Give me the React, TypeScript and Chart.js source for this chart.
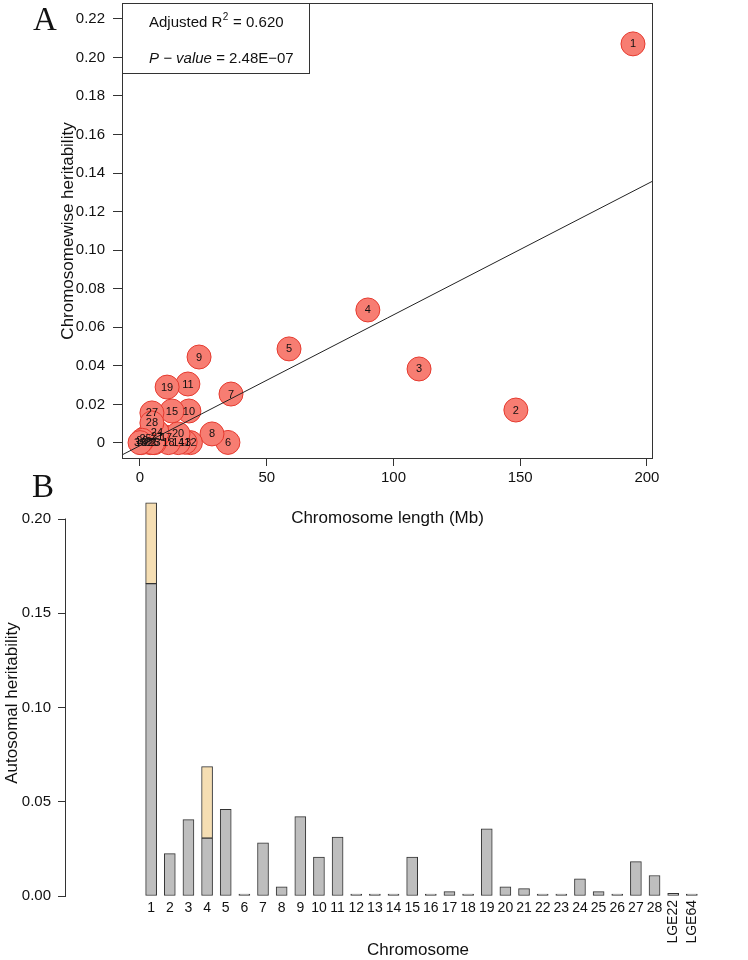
import React, { useEffect, useRef } from 'react';
import { Chart, registerables } from 'chart.js';

Chart.register(...registerables);

const FONT = '"Liberation Sans", Arial, Helvetica, sans-serif';
const SERIF = '"Liberation Serif", "Times New Roman", serif';

// ---------- Panel A data ----------
const pointLabels = ['1','2','3','4','5','6','7','8','9','10','11','12','13','14','15','16','17','18','19','20','21','22','23','24','25','26','27','28','29','30'];
const lengthMb = [194.5, 148.3, 110.1, 89.9, 58.8, 34.7, 35.9, 28.4, 23.3, 19.3, 18.9, 19.9, 17.8, 15.1, 12.6, 0.5, 10.3, 11.2, 10.7, 15.0, 6.8, 4.1, 5.7, 6.7, 2.2, 5.1, 4.7, 4.7, 0.9, 0.02];
const heritA = [0.207, 0.0171, 0.0384, 0.069, 0.0488, 0.0003, 0.0254, 0.0047, 0.0446, 0.0166, 0.0306, 0.0002, 0.0004, 0.0002, 0.0166, 0.0002, 0.003, 0.0002, 0.029, 0.0047, 0.0036, 0.0002, 0.0002, 0.0057, 0.0026, 0.0002, 0.0156, 0.0104, 0.0014, 0.0002];
const fitLineX = [-7.1, 202.4];
const fitLineY = [-0.0062, 0.1359];
const yTicksA = [0, 0.02, 0.04, 0.06, 0.08, 0.1, 0.12, 0.14, 0.16, 0.18, 0.2, 0.22];
const yTickLabelsA = ['0', '0.02', '0.04', '0.06', '0.08', '0.10', '0.12', '0.14', '0.16', '0.18', '0.20', '0.22'];
const xTicksA = [0, 50, 100, 150, 200];
const xTickLabelsA = ['0', '50', '100', '150', '200'];
const statR2 = '0.620';
const statP = '2.48E\u221207';

// ---------- Panel B data ----------
const chromLabels = ['1','2','3','4','5','6','7','8','9','10','11','12','13','14','15','16','17','18','19','20','21','22','23','24','25','26','27','28','LGE22','LGE64'];
const grayB = [0.1657, 0.0225, 0.0405, 0.0307, 0.046, 0.0003, 0.0282, 0.0049, 0.0421, 0.0207, 0.0312, 0.0002, 0.0005, 0.0002, 0.0207, 0.0002, 0.0023, 0.0002, 0.0356, 0.0049, 0.0039, 0.0002, 0.0002, 0.0091, 0.0023, 0.0002, 0.0182, 0.0109, 0.0014, 0.0004];
const tanB = [0.0429, 0, 0, 0.0379, 0, 0, 0, 0, 0, 0, 0, 0, 0, 0, 0, 0, 0, 0, 0, 0, 0, 0, 0, 0, 0, 0, 0, 0, 0, 0];
const yTicksB = [0, 0.05, 0.1, 0.15, 0.2];
const yTickLabelsB = ['0.00', '0.05', '0.10', '0.15', '0.20'];

const B_TOP = 490;

const panelAPlugin = {
  id: 'panelA',
  afterDatasetsDraw(chart: any) {
    const ctx = chart.ctx;
    const meta = chart.getDatasetMeta(1);
    ctx.save();
    ctx.font = `11px ${FONT}`;
    ctx.fillStyle = '#111';
    ctx.textAlign = 'center';
    ctx.textBaseline = 'middle';
    meta.data.forEach((el: any, i: number) => {
      ctx.fillText(pointLabels[i], el.x, el.y + 0.5);
    });
    ctx.restore();
  },
  afterDraw(chart: any) {
    const ctx = chart.ctx;
    const ca = chart.chartArea;
    ctx.save();
    ctx.strokeStyle = '#333';
    ctx.lineWidth = 1;
    ctx.strokeRect(ca.left + 0.5, ca.top + 0.5, ca.right - ca.left - 1, ca.bottom - ca.top - 1);
    ctx.fillStyle = '#fff';
    ctx.fillRect(ca.left + 1, ca.top + 1, 186, 69);
    ctx.strokeRect(ca.left + 0.5, ca.top + 0.5, 187, 70);
    ctx.fillStyle = '#111';
    ctx.textAlign = 'left';
    ctx.textBaseline = 'alphabetic';
    let x = ca.left + 27;
    ctx.font = `15px ${FONT}`;
    ctx.fillText('Adjusted R', x, 27);
    x += ctx.measureText('Adjusted R').width;
    ctx.font = `10px ${FONT}`;
    ctx.fillText('2', x + 0.5, 20);
    x += ctx.measureText('2').width + 1;
    ctx.font = `15px ${FONT}`;
    ctx.fillText(' = ' + statR2, x, 27);
    let x2 = ca.left + 27;
    ctx.font = `italic 15px ${FONT}`;
    const pv = 'P \u2212 value';
    ctx.fillText(pv, x2, 63);
    x2 += ctx.measureText(pv).width;
    ctx.font = `15px ${FONT}`;
    ctx.fillText(' = ' + statP, x2, 63);
    ctx.font = `33px ${SERIF}`;
    ctx.fillText('A', 33, 30);
    ctx.fillText('B', 32, 497);
    ctx.font = `17px ${FONT}`;
    ctx.textAlign = 'center';
    ctx.textBaseline = 'middle';
    ctx.fillText('Chromosome length (Mb)', (ca.left + ca.right) / 2, 518);
    ctx.translate(68, (ca.top + ca.bottom) / 2);
    ctx.rotate(-Math.PI / 2);
    ctx.fillText('Chromosomewise heritability', 0, 0);
    ctx.restore();
  },
};

const panelBPlugin = {
  id: 'panelB',
  afterDraw(chart: any) {
    const ctx = chart.ctx;
    const ca = chart.chartArea;
    const ys = chart.scales.y;
    const xs = chart.scales.x;
    ctx.save();
    ctx.strokeStyle = '#333';
    ctx.lineWidth = 1;
    ctx.beginPath();
    ctx.moveTo(ca.left - 0.5, Math.round(ys.getPixelForValue(yTicksB[0])) + 0.5);
    ctx.lineTo(ca.left - 0.5, Math.round(ys.getPixelForValue(yTicksB[yTicksB.length - 1])) - 0.5);
    ctx.stroke();
    ctx.fillStyle = '#111';
    ctx.font = `14px ${FONT}`;
    chromLabels.forEach((lab, i) => {
      const px = xs.getPixelForValue(i + 1);
      if (lab.length <= 2) {
        ctx.textAlign = 'center';
        ctx.textBaseline = 'middle';
        ctx.fillText(lab, px, 908 - B_TOP);
      } else {
        ctx.save();
        ctx.translate(px, 900 - B_TOP);
        ctx.rotate(-Math.PI / 2);
        ctx.textAlign = 'right';
        ctx.textBaseline = 'middle';
        ctx.fillText(lab, 0, 0);
        ctx.restore();
      }
    });
    ctx.font = `17px ${FONT}`;
    ctx.textAlign = 'center';
    ctx.textBaseline = 'middle';
    ctx.fillText('Chromosome', 418, 950 - B_TOP);
    ctx.translate(12, 703 - B_TOP);
    ctx.rotate(-Math.PI / 2);
    ctx.fillText('Autosomal heritability', 0, 0);
    ctx.restore();
  },
};

export default function App() {
  const refA = useRef<HTMLCanvasElement>(null);
  const refB = useRef<HTMLCanvasElement>(null);

  useEffect(() => {
    const tickFont = { family: FONT, size: 15 };
    const chartA = new Chart(refA.current as HTMLCanvasElement, {
      type: 'scatter',
      data: {
        datasets: [
          {
            type: 'line',
            data: fitLineX.map((x, i) => ({ x, y: fitLineY[i] })),
            borderColor: '#222',
            borderWidth: 1,
            pointRadius: 0,
            fill: false,
            tension: 0,
          } as any,
          {
            data: lengthMb.map((x, i) => ({ x, y: heritA[i] })),
            backgroundColor: '#F77D72',
            borderColor: '#E5392E',
            borderWidth: 1,
            pointRadius: 12,
            pointHoverRadius: 12,
          },
        ],
      },
      options: {
        responsive: false,
        animation: false,
        events: [],
        layout: { autoPadding: false, padding: { left: 0, right: 95, top: 3, bottom: 0 } },
        plugins: { legend: { display: false }, tooltip: { enabled: false } },
        scales: {
          x: {
            type: 'linear',
            min: -7.1,
            max: 202.4,
            afterBuildTicks: (s: any) => { s.ticks = xTicksA.map((v) => ({ value: v })); },
            afterFit: (s: any) => { s.height = 81; s.paddingLeft = 0; s.paddingRight = 0; },
            grid: { drawOnChartArea: false, drawTicks: true, tickLength: 7, color: '#333' },
            border: { display: false },
            ticks: { padding: 3, color: '#111', font: tickFont, maxRotation: 0, autoSkip: false, callback: (_v: any, i: number) => xTickLabelsA[i] },
          },
          y: {
            type: 'linear',
            min: -0.0083,
            max: 0.2282,
            afterBuildTicks: (s: any) => { s.ticks = yTicksA.map((v) => ({ value: v })); },
            afterFit: (s: any) => { s.width = 122; s.paddingTop = 0; s.paddingBottom = 0; },
            grid: { drawOnChartArea: false, drawTicks: true, tickLength: 9, color: '#333' },
            border: { display: false },
            ticks: { padding: 8, color: '#111', font: tickFont, autoSkip: false, callback: (_v: any, i: number) => yTickLabelsA[i] },
          },
        },
      },
      plugins: [panelAPlugin],
    });

    const chartB = new Chart(refB.current as HTMLCanvasElement, {
      type: 'bar',
      data: {
        datasets: [
          {
            data: grayB.map((v, i) => ({ x: i + 1, y: v })),
            backgroundColor: '#BEBEBE',
            borderColor: '#333',
            borderWidth: 1,
            borderSkipped: false,
            barThickness: 11,
            minBarLength: 2,
            stack: 's',
          } as any,
          {
            data: tanB.map((v, i) => ({ x: i + 1, y: v > 0 ? v : null })),
            backgroundColor: '#F5DEB3',
            borderColor: '#333',
            borderWidth: 1,
            borderSkipped: false,
            barThickness: 11,
            stack: 's',
          } as any,
        ],
      },
      options: {
        responsive: false,
        animation: false,
        events: [],
        layout: { autoPadding: false, padding: { left: 0, right: 0, top: 10, bottom: 64 } },
        plugins: { legend: { display: false }, tooltip: { enabled: false } },
        scales: {
          x: { type: 'linear', min: -0.954, max: 30.4, stacked: true, display: false },
          y: {
            type: 'linear',
            min: 0,
            max: 0.2101,
            stacked: true,
            afterBuildTicks: (s: any) => { s.ticks = yTicksB.map((v) => ({ value: v })); },
            afterFit: (s: any) => { s.width = 66; s.paddingTop = 0; s.paddingBottom = 0; },
            grid: { drawOnChartArea: false, drawTicks: true, tickLength: 8, color: '#333' },
            border: { display: false },
            ticks: { padding: 7, color: '#111', font: tickFont, autoSkip: false, callback: (_v: any, i: number) => yTickLabelsB[i] },
          },
        },
      },
      plugins: [panelBPlugin],
    });

    return () => {
      chartA.destroy();
      chartB.destroy();
    };
  }, []);

  return (
    <div style={{ position: 'absolute', left: 0, top: 0, width: 748, height: 960, background: '#fff', overflow: 'hidden' }}>
      <canvas ref={refA} width={748} height={540} style={{ position: 'absolute', left: 0, top: 0, width: 748, height: 540 }} />
      <canvas ref={refB} width={748} height={470} style={{ position: 'absolute', left: 0, top: B_TOP, width: 748, height: 470 }} />
    </div>
  );
}
